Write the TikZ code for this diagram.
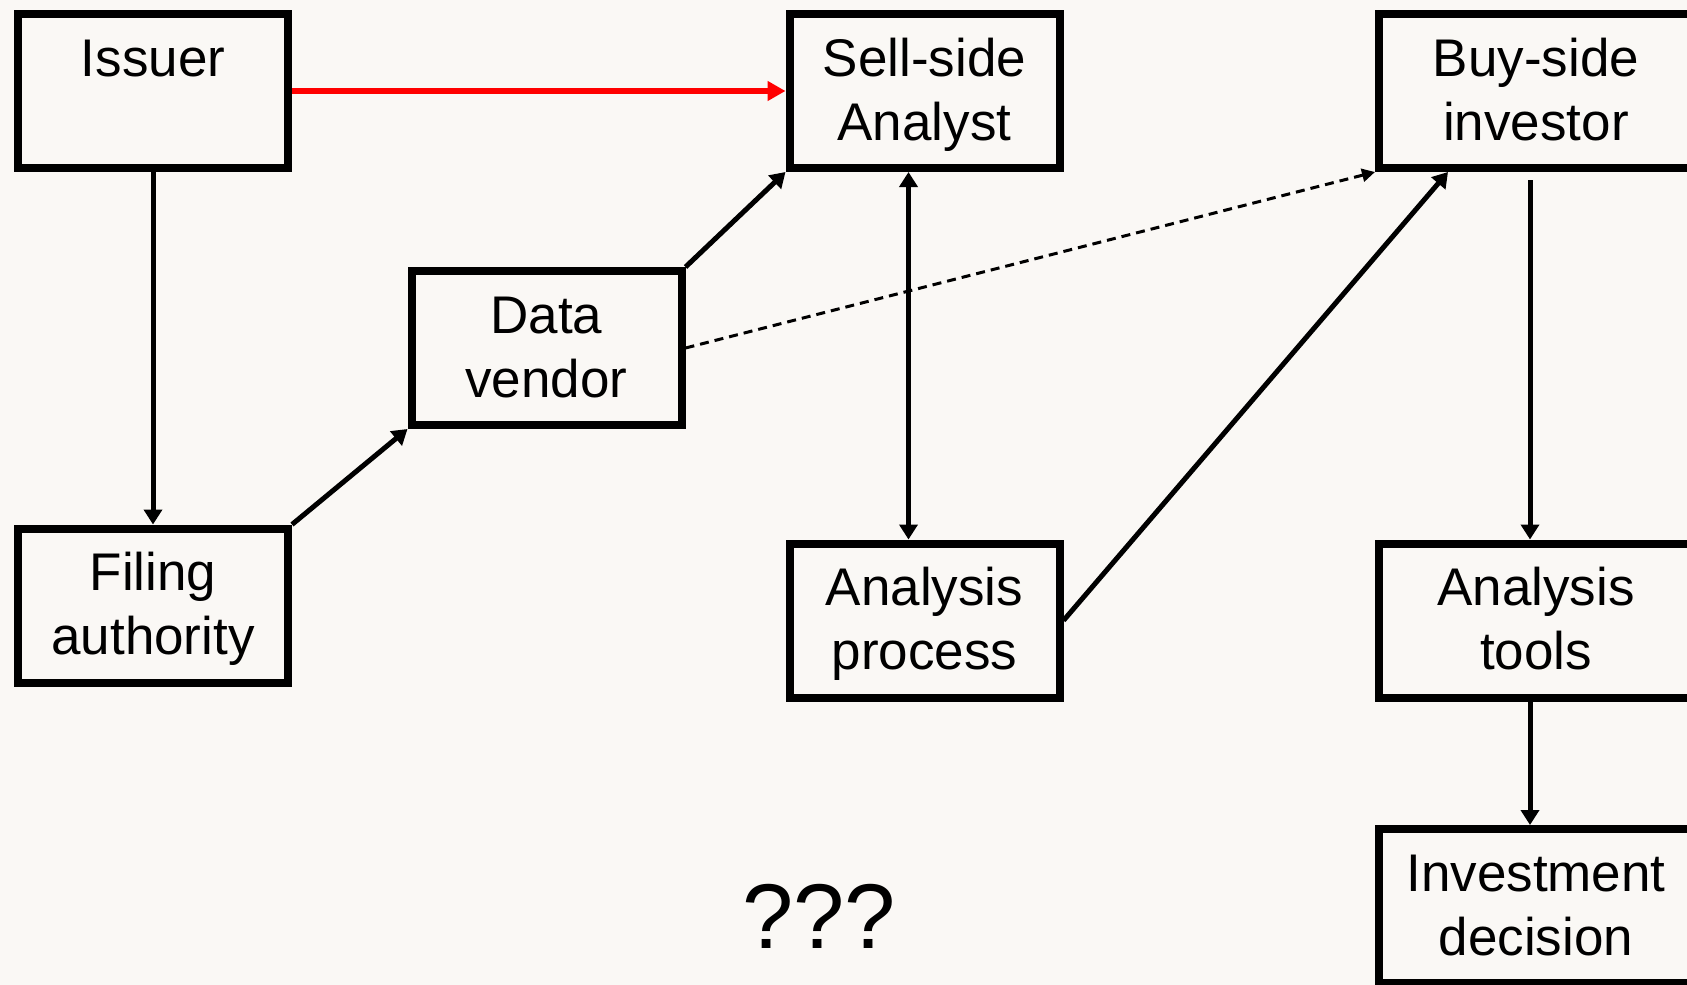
\documentclass[tikz,border=0pt]{standalone}
\usepackage{fontspec}
\setmainfont{Liberation Sans}
\usetikzlibrary{arrows.meta}
\definecolor{bgcol}{RGB}{250,248,245}
\definecolor{arrred}{RGB}{255,0,0}
\newcommand{\boxtext}[1]{\raisebox{-4.5pt}[\height][\depth]{\begin{tabular}{@{}c@{}}#1\end{tabular}}}
\begin{document}
\begin{tikzpicture}[x=1pt,y=-1pt,
  box/.style={draw=black, line width=8pt, minimum width=270pt, minimum height=154pt,
    inner sep=0pt, font=\fontsize{53}{63.6}\selectfont},
  widebox/.style={box, minimum width=314pt},
  conn/.style={draw=black, line width=5pt, -{Triangle[length=15pt,width=18pt]}},
  biconn/.style={draw=black, line width=5pt, {Triangle[length=15pt,width=18pt]}-{Triangle[length=15pt,width=18pt]}},
  redconn/.style={draw=arrred, line width=6pt, -{Triangle[length=18pt,width=19pt]}},
  dashconn/.style={draw=black, line width=3pt, dash pattern=on 9pt off 6pt, -{Triangle[length=13pt,width=13pt]}},
  qtext/.style={font=\fontsize{92}{110}\selectfont, inner sep=0pt, anchor=base}
]
\useasboundingbox (0,0) rectangle (1687,985);
\fill[bgcol] (0,0) rectangle (1687,985);
\clip (0,0) rectangle (1687,985);

\node[box] (issuer) at (153,91) {\boxtext{Issuer\\ \mbox{}}};
\node[box] (sell) at (924.5,91) {\boxtext{Sell-side\\Analyst}};
\node[widebox] (buy) at (1536,91) {\boxtext{Buy-side\\investor}};
\node[box] (data) at (546.5,348) {\boxtext{Data\\vendor}};
\node[box] (filing) at (153,605.5) {\boxtext{Filing\\authority}};
\node[box] (proc) at (924.5,620.5) {\boxtext{Analysis\\process}};
\node[widebox] (tools) at (1536,620.5) {\boxtext{Analysis\\tools}};
\node[widebox] (inv) at (1536,906) {\boxtext{Investment\\decision}};
\node[qtext] (q) at (819,948) {???};

\draw[redconn] (issuer.east) -- (sell.west);
\draw[conn] (issuer.south) -- (filing.north);
\draw[conn] (filing.north east) -- (data.south west);
\draw[conn] (data.north east) -- (sell.south west);
\draw[dashconn] (data.east) -- (buy.south west);
\draw[biconn] ([xshift=-16pt]sell.south) -- ([xshift=-16pt]proc.north);
\draw[conn] (proc.east) -- ([xshift=-88pt]buy.south);
\draw[conn, shorten <=8pt] ([xshift=-6pt]buy.south) -- ([xshift=-6pt]tools.north);
\draw[conn] ([xshift=-6pt]tools.south) -- ([xshift=-6pt]inv.north);
\end{tikzpicture}
\end{document}
